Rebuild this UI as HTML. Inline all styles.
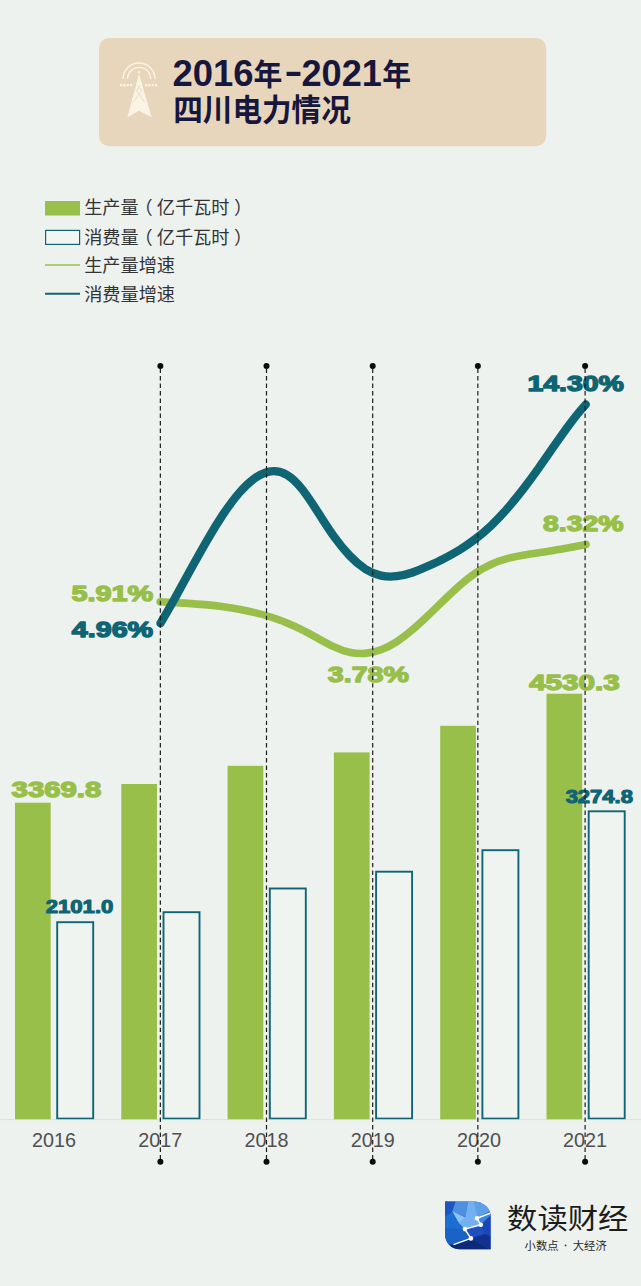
<!DOCTYPE html>
<html lang="zh"><head><meta charset="utf-8"><title>2016年-2021年 四川电力情况</title>
<style>
html,body{margin:0;padding:0;background:#edf2ef;}
body{width:641px;height:1286px;overflow:hidden;font-family:"Liberation Sans",sans-serif;}
svg{display:block;}
svg text{font-family:"Liberation Sans","Noto Sans CJK SC",sans-serif;}
</style></head><body>
<svg width="641" height="1286" viewBox="0 0 641 1286" font-family="Liberation Sans, Noto Sans CJK SC, sans-serif"><rect x="99" y="38" width="447.2" height="108.2" rx="10" fill="#e7d6bb"/>
<text x="172.4" y="86.2" font-size="36" font-weight="bold" fill="#17173d" text-anchor="start" textLength="81" lengthAdjust="spacingAndGlyphs" >2016</text>
<text x="253.6" y="84.8" font-size="30" font-weight="bold" fill="#17173d" textLength="28.8" lengthAdjust="spacingAndGlyphs">年</text>
<rect x="286.6" y="71.8" width="13.8" height="4.2" fill="#17173d"/>
<text x="301.4" y="86.2" font-size="36" font-weight="bold" fill="#17173d" text-anchor="start" textLength="80.5" lengthAdjust="spacingAndGlyphs" >2021</text>
<text x="382.2" y="84.8" font-size="30" font-weight="bold" fill="#17173d" textLength="28.8" lengthAdjust="spacingAndGlyphs">年</text>
<text x="173.2" y="120.8" font-size="31.2" font-weight="bold" fill="#17173d" textLength="177.6" lengthAdjust="spacingAndGlyphs">四川电力情况</text>
<g fill="none" stroke="#fbf4e6" stroke-width="1.4"><path d="M123 79 A16 16 0 0 1 155 79"/><path d="M127.5 79 A11.6 11.6 0 0 1 150.7 79"/></g>
<path d="M120 85.2H133.4M144.9 85.2H158.3" stroke="#fbf4e6" stroke-width="2.2" stroke-dasharray="2.25 1.1" fill="none"/>
<circle cx="139" cy="72.2" r="1.1" fill="#fbf4e6"/>
<path d="M139 73.8L151.6 117.2L139 110.8L127.4 117.2Z" fill="#fbf4e6"/>
<path d="M135.4 89.5L145 102.4M142.6 89.5L133 102.4M137.2 85L141.6 91M140.8 85L136.4 91" stroke="#e7d6bb" stroke-width="0.8" fill="none"/>
<rect x="45" y="201" width="35" height="14.5" fill="#99bf4b"/>
<rect x="45.6" y="230.4" width="34" height="14" fill="#f1f6f3" stroke="#0f6573" stroke-width="1.2"/>
<line x1="45" y1="265" x2="80" y2="265" stroke="#99bf4b" stroke-width="1.6"/>
<line x1="45" y1="293.8" x2="80" y2="293.8" stroke="#0f6573" stroke-width="2"/>
<text x="84.2" y="214.3" font-size="18.15" fill="#333333" textLength="54.5" lengthAdjust="spacingAndGlyphs">生产量</text>
<text x="134.5" y="214.3" font-size="18.15" fill="#333333" textLength="18.2" lengthAdjust="spacingAndGlyphs">（</text>
<text x="156.8" y="214.3" font-size="18.15" fill="#333333" textLength="72.6" lengthAdjust="spacingAndGlyphs">亿千瓦时</text>
<text x="234.0" y="214.3" font-size="18.15" fill="#333333" textLength="18.2" lengthAdjust="spacingAndGlyphs">）</text>
<text x="84.2" y="243.6" font-size="18.15" fill="#333333" textLength="54.5" lengthAdjust="spacingAndGlyphs">消费量</text>
<text x="134.5" y="243.6" font-size="18.15" fill="#333333" textLength="18.2" lengthAdjust="spacingAndGlyphs">（</text>
<text x="156.8" y="243.6" font-size="18.15" fill="#333333" textLength="72.6" lengthAdjust="spacingAndGlyphs">亿千瓦时</text>
<text x="234.0" y="243.6" font-size="18.15" fill="#333333" textLength="18.2" lengthAdjust="spacingAndGlyphs">）</text>
<text x="84.2" y="271.8" font-size="18.15" fill="#333333" textLength="90.8" lengthAdjust="spacingAndGlyphs">生产量增速</text>
<text x="84.2" y="301.2" font-size="18.15" fill="#333333" textLength="90.8" lengthAdjust="spacingAndGlyphs">消费量增速</text>
<rect x="15.0" y="802.7" width="35.7" height="316.9" fill="#99bf4b"/>
<rect x="57.2" y="922.2" width="36" height="196.4" fill="#eff4f1" stroke="#0f6573" stroke-width="1.9"/>
<rect x="121.3" y="784" width="35.7" height="335.6" fill="#99bf4b"/>
<rect x="163.5" y="912.2" width="36" height="206.4" fill="#eff4f1" stroke="#0f6573" stroke-width="1.9"/>
<rect x="227.6" y="765.8" width="35.7" height="353.8" fill="#99bf4b"/>
<rect x="269.8" y="888.5" width="36" height="230.1" fill="#eff4f1" stroke="#0f6573" stroke-width="1.9"/>
<rect x="333.9" y="752.4" width="35.7" height="367.2" fill="#99bf4b"/>
<rect x="376.1" y="871.7" width="36" height="246.9" fill="#eff4f1" stroke="#0f6573" stroke-width="1.9"/>
<rect x="440.2" y="725.8" width="35.7" height="393.8" fill="#99bf4b"/>
<rect x="482.4" y="850.2" width="36" height="268.4" fill="#eff4f1" stroke="#0f6573" stroke-width="1.9"/>
<rect x="546.5" y="693.7" width="35.7" height="425.9" fill="#99bf4b"/>
<rect x="588.7" y="811.3" width="36" height="307.3" fill="#eff4f1" stroke="#0f6573" stroke-width="1.9"/>
<line x1="0" y1="1119.6" x2="641" y2="1119.6" stroke="#d5dbd7" stroke-width="1" opacity="0.7"/>
<path d="M160.2 601.8C165.5 602.1 170.7 602.4 176.0 602.7C181.2 603.0 186.5 603.3 191.7 603.6C197.0 604.0 202.3 604.4 207.5 604.9C212.8 605.4 218.0 606.0 223.3 606.7C228.5 607.4 233.8 608.2 239.1 609.2C244.3 610.2 249.6 611.3 254.8 612.6C260.1 613.8 265.3 615.3 270.6 617.0C275.8 618.7 281.1 620.5 286.4 622.7C291.6 624.8 296.9 627.2 302.1 629.8C307.4 632.4 312.6 635.4 317.9 638.3C323.2 641.3 328.4 644.2 333.7 646.6C338.9 649.1 344.2 651.1 349.4 652.3C354.7 653.5 360.0 653.8 365.2 653.4C370.5 652.9 375.7 651.7 381.0 649.7C386.2 647.8 391.5 645.1 396.8 641.7C402.0 638.3 407.3 634.2 412.5 629.7C417.8 625.3 423.0 620.4 428.3 615.3C433.6 610.3 438.8 605.1 444.1 600.0C449.3 594.9 454.6 589.9 459.8 585.3C465.1 580.7 470.4 576.5 475.6 573.0C480.9 569.4 486.1 566.6 491.4 564.2C496.6 561.9 501.9 560.1 507.1 558.7C512.4 557.2 517.7 556.1 522.9 555.2C528.2 554.3 533.4 553.5 538.7 552.7C543.9 552.0 549.2 551.2 554.5 550.2C559.7 549.3 565.0 548.4 570.2 547.4C575.5 546.4 580.7 545.4 586.0 544.4" fill="none" stroke="#99bf4b" stroke-width="7.6" stroke-linecap="round" stroke-linejoin="round"/>
<path d="M160.4 623.3C165.7 614.6 170.9 605.3 176.2 595.9C181.4 586.4 186.7 576.8 191.9 567.3C197.2 557.7 202.4 548.3 207.7 539.3C212.9 530.3 218.2 521.8 223.4 513.9C228.7 506.1 233.9 499.0 239.2 492.9C244.4 486.8 249.7 481.8 254.9 478.1C260.2 474.4 265.4 472.1 270.7 471.4C275.9 470.7 281.2 471.6 286.4 474.6C291.7 477.5 296.9 482.6 302.2 489.3C307.5 496.0 312.7 504.1 318.0 512.3C323.2 520.6 328.5 528.9 333.7 536.2C339.0 543.6 344.2 550.0 349.5 555.5C354.7 561.0 360.0 565.5 365.2 568.9C370.5 572.2 375.7 574.4 381.0 575.6C386.2 576.7 391.5 576.8 396.7 576.2C402.0 575.6 407.2 574.3 412.5 572.5C417.7 570.7 423.0 568.5 428.2 566.1C433.5 563.7 438.7 561.3 444.0 558.6C449.3 555.9 454.5 552.9 459.8 549.7C465.0 546.5 470.3 542.9 475.5 538.9C480.8 534.9 486.0 530.4 491.3 525.4C496.5 520.4 501.8 514.9 507.0 508.9C512.3 502.8 517.5 496.4 522.8 489.6C528.0 482.8 533.3 475.6 538.5 468.3C543.8 460.9 549.0 453.3 554.3 445.7C559.5 438.2 564.8 430.7 570.0 423.7C575.3 416.7 580.5 410.2 585.8 404.5" fill="none" stroke="#0f6573" stroke-width="8.3" stroke-linecap="round" stroke-linejoin="round"/>
<text x="527.41" y="391.18" font-size="22.46" font-weight="bold" fill="#0f6573" text-anchor="start" textLength="96.34" lengthAdjust="spacingAndGlyphs" stroke="#0f6573" stroke-width="1.4" stroke-linejoin="round" paint-order="stroke" >14.30%</text>
<text x="543.1" y="531.38" font-size="22.18" font-weight="bold" fill="#99bf4b" text-anchor="start" textLength="80.45" lengthAdjust="spacingAndGlyphs" stroke="#99bf4b" stroke-width="1.4" stroke-linejoin="round" paint-order="stroke" >8.32%</text>
<text x="71.41" y="600.98" font-size="22.46" font-weight="bold" fill="#99bf4b" text-anchor="start" textLength="81.64" lengthAdjust="spacingAndGlyphs" stroke="#99bf4b" stroke-width="1.4" stroke-linejoin="round" paint-order="stroke" >5.91%</text>
<text x="71.87" y="636.78" font-size="22.74" font-weight="bold" fill="#0f6573" text-anchor="start" textLength="81.19" lengthAdjust="spacingAndGlyphs" stroke="#0f6573" stroke-width="1.4" stroke-linejoin="round" paint-order="stroke" >4.96%</text>
<text x="327.84" y="681.58" font-size="22.74" font-weight="bold" fill="#99bf4b" text-anchor="start" textLength="81.01" lengthAdjust="spacingAndGlyphs" stroke="#99bf4b" stroke-width="1.4" stroke-linejoin="round" paint-order="stroke" >3.78%</text>
<text x="529.15" y="689.59" font-size="21.61" font-weight="bold" fill="#99bf4b" text-anchor="start" textLength="90.52" lengthAdjust="spacingAndGlyphs" stroke="#99bf4b" stroke-width="1.4" stroke-linejoin="round" paint-order="stroke" >4530.3</text>
<text x="11.63" y="796.78" font-size="22.74" font-weight="bold" fill="#99bf4b" text-anchor="start" textLength="89.67" lengthAdjust="spacingAndGlyphs" stroke="#99bf4b" stroke-width="1.4" stroke-linejoin="round" paint-order="stroke" >3369.8</text>
<text x="45.78" y="913.27" font-size="18.5" font-weight="bold" fill="#0f6573" text-anchor="start" textLength="67.57" lengthAdjust="spacingAndGlyphs" stroke="#0f6573" stroke-width="1.1" stroke-linejoin="round" paint-order="stroke" >2101.0</text>
<text x="565.65" y="802.57" font-size="17.94" font-weight="bold" fill="#0f6573" text-anchor="start" textLength="67.28" lengthAdjust="spacingAndGlyphs" stroke="#0f6573" stroke-width="1.1" stroke-linejoin="round" paint-order="stroke" >3274.8</text>
<text x="54.1" y="1147.3" font-size="19.8" font-weight="normal" fill="#505050" text-anchor="middle" >2016</text>
<text x="160.3" y="1147.3" font-size="19.8" font-weight="normal" fill="#505050" text-anchor="middle" >2017</text>
<text x="266.5" y="1147.3" font-size="19.8" font-weight="normal" fill="#505050" text-anchor="middle" >2018</text>
<text x="372.7" y="1147.3" font-size="19.8" font-weight="normal" fill="#505050" text-anchor="middle" >2019</text>
<text x="478.9" y="1147.3" font-size="19.8" font-weight="normal" fill="#505050" text-anchor="middle" >2020</text>
<text x="585.1" y="1147.3" font-size="19.8" font-weight="normal" fill="#505050" text-anchor="middle" >2021</text>
<line x1="160.35" y1="368.6" x2="160.35" y2="1160" stroke="#1c1c1c" stroke-width="1.2" stroke-dasharray="4.4 3.09"/>
<circle cx="160.35" cy="366.1" r="3" fill="#0c0c0c"/>
<circle cx="160.35" cy="1161.8" r="3" fill="#0c0c0c"/>
<line x1="266.5" y1="368.6" x2="266.5" y2="1160" stroke="#1c1c1c" stroke-width="1.2" stroke-dasharray="4.4 3.09"/>
<circle cx="266.5" cy="366.1" r="3" fill="#0c0c0c"/>
<circle cx="266.5" cy="1161.8" r="3" fill="#0c0c0c"/>
<line x1="372.7" y1="368.6" x2="372.7" y2="1160" stroke="#1c1c1c" stroke-width="1.2" stroke-dasharray="4.4 3.09"/>
<circle cx="372.7" cy="366.1" r="3" fill="#0c0c0c"/>
<circle cx="372.7" cy="1161.8" r="3" fill="#0c0c0c"/>
<line x1="477.85" y1="368.6" x2="477.85" y2="1160" stroke="#1c1c1c" stroke-width="1.2" stroke-dasharray="4.4 3.09"/>
<circle cx="477.85" cy="366.1" r="3" fill="#0c0c0c"/>
<circle cx="477.85" cy="1161.8" r="3" fill="#0c0c0c"/>
<line x1="585.1" y1="368.6" x2="585.1" y2="1160" stroke="#1c1c1c" stroke-width="1.2" stroke-dasharray="4.4 3.09"/>
<circle cx="585.1" cy="366.1" r="3" fill="#0c0c0c"/>
<circle cx="585.1" cy="1161.8" r="3" fill="#0c0c0c"/>
<defs><clipPath id="lg"><path d="M445 1201.6H473.5A17 14.5 0 0 1 490.6 1216.2V1249.3H459.8A14.8 14.8 0 0 1 445 1234.5Z"/></clipPath></defs>
<g clip-path="url(#lg)">
<rect x="444" y="1200" width="48" height="51" fill="#1c5fc4"/>
<path d="M443.6 1199.6L456.2 1199.6L452.4 1211.7L443.6 1217.7Z" fill="#1f55c0"/>
<path d="M456.2 1199.6L468.2 1199.6L465.5 1217.1L452.4 1211.7Z" fill="#4f8fdf"/>
<path d="M452.2 1211.2L466.1 1217.8L458.5 1223.9Z" fill="#8cc2f5"/>
<path d="M468.2 1199.6L492.8 1199.6L492.8 1209.5L477.5 1217.7L465.5 1217.1Z" fill="#5f9fe9"/>
<path d="M477.5 1217.7L492.8 1209.5L492.8 1213.8L480.8 1224.8Z" fill="#3f85dc"/>
<path d="M443.6 1217.7L452.4 1211.7L458.9 1223.1L464.9 1229.1L443.6 1228.6Z" fill="#1b6fd0"/>
<path d="M458.9 1223.1L465.5 1217.1L468.8 1199.6L473.1 1199.6L477.5 1217.7L480.8 1224.8L464.9 1229.1Z" fill="#74b0f0"/>
<path d="M443.6 1228.6L464.9 1229.1L470.9 1238.4L454.0 1244.4L443.6 1244.4Z" fill="#1a62c6"/>
<path d="M464.9 1229.1L480.8 1224.8L484.6 1234.0L470.9 1238.4Z" fill="#1f4fbf"/>
<path d="M480.8 1224.8L492.8 1213.3L492.8 1236.8L484.6 1234.0Z" fill="#1b45b8"/>
<path d="M470.9 1238.4L484.6 1234.0L492.8 1236.8L492.8 1251.0Z" fill="#12318f"/>
<path d="M443.6 1244.4L454.0 1244.4L470.9 1238.4L492.8 1251.0L443.6 1251.0Z" fill="#0c2a78"/>
<path d="M453.5 1244.6L470.9 1238.4L464.9 1229.1L480.8 1224.8L477.0 1218.2L490.6 1213.1" fill="none" stroke="#ffffff" stroke-width="1.5" stroke-linejoin="round"/>
<circle cx="470.9" cy="1238.4" r="2.3" fill="#ffffff"/>
<circle cx="464.9" cy="1229.1" r="2.3" fill="#ffffff"/>
<circle cx="480.8" cy="1224.8" r="2.3" fill="#ffffff"/>
<circle cx="477.0" cy="1218.2" r="2.3" fill="#ffffff"/>
</g>
<text x="507.1" y="1228.9" font-size="28.4" fill="#1c1c1c" textLength="121.2" lengthAdjust="spacingAndGlyphs">数读财经</text>
<text x="524.6" y="1249.7" font-size="11.3" fill="#2a2a2a" textLength="33.9" lengthAdjust="spacingAndGlyphs">小数点</text>
<circle cx="565.6" cy="1245.4" r="0.85" fill="#333333"/>
<text x="572.8" y="1249.7" font-size="11.3" fill="#2a2a2a" textLength="33.9" lengthAdjust="spacingAndGlyphs">大经济</text></svg>
</body></html>
